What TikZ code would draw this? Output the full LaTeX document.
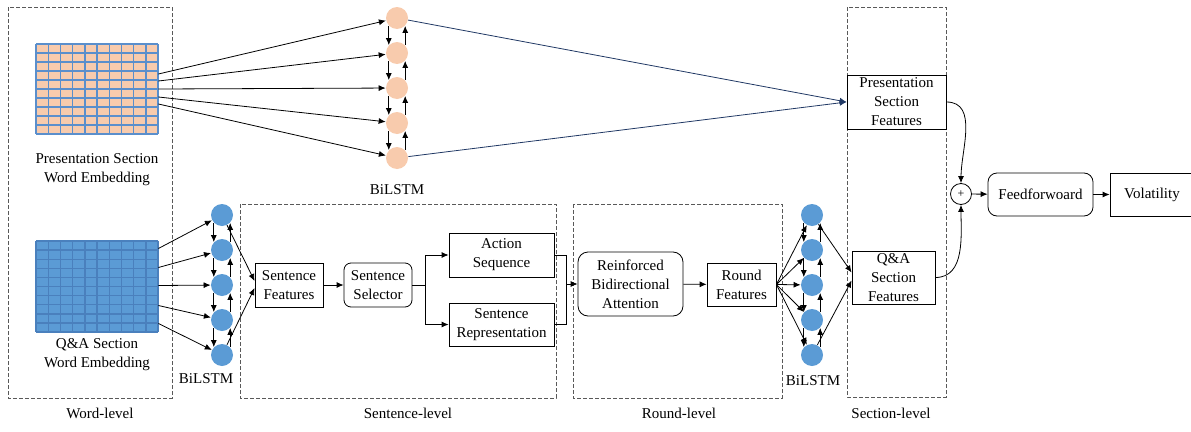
\documentclass[tikz,border=0pt]{standalone}
\usepackage{fontspec}
\setmainfont{Liberation Serif}
\usetikzlibrary{arrows.meta, calc}
\definecolor{cellPeach}{HTML}{F8CBAD}
\definecolor{cellBlue}{HTML}{5B9BD5}
\definecolor{gridBlue}{HTML}{5B8FCC}
\definecolor{gridDark}{HTML}{4A80BD}
\definecolor{lineNavy}{HTML}{203864}
\definecolor{dashGray}{HTML}{595959}

\tikzset{
	arr/.style={-{Latex[length=7pt, width=6pt]}},
	cell/.style={circle, minimum size=22pt, inner sep=0pt},
	block/.style={draw, fill=white, align=center, inner sep=1pt},
	level/.style={draw=dashGray, dash pattern=on 4pt off 2pt},
	txt/.style={align=center, inner sep=1pt}
}

\newcommand{\LstmColumn}[4]{
	\def\lname{#1}
	\def\lx{#2}
	\def\ly{#3}
	\def\lfill{#4}
	\foreach \i in {1,...,5}
		\node[cell, fill=\lfill] (\lname\i) at (\lx, \ly+35*\i-35) {};
	\foreach \i [evaluate=\i as \j using int(\i+1)] in {1,...,4} {
		\draw[arr] (\lname\i.-136) -- (\lname\j.136);
		\draw[arr] (\lname\j.44) -- (\lname\i.-44);
	}
}

\newcommand{\EmbedGrid}[6]{
	\def\gname{#1}
	\def\gx{#2}
	\def\gy{#3}
	\def\gh{#4}
	\def\gfill{#5}
	\def\gline{#6}
	\node[fill=\gfill, minimum width=122pt, minimum height=\gh pt, inner sep=0pt] (\gname) at (\gx+61, \gy+\gh/2) {};
	\foreach \k in {0,...,10} {
		\draw[\gline, line width=1.4pt] (\gx+12.2*\k, \gy) -- (\gx+12.2*\k, \gy+\gh);
		\draw[\gline, line width=1.4pt] (\gx, \gy+\gh*\k/10) -- (\gx+122, \gy+\gh*\k/10);
	}
}

\begin{document}
\begin{tikzpicture}[x=1pt, y=-1pt, line width=0.8pt, font=\fontsize{15}{19}\selectfont]
	\useasboundingbox (0,0) rectangle (1191,431);

	% level frames
	\draw[level] (8,7) rectangle (172,398);
	\draw[level] (240,204) rectangle (556,398);
	\draw[level] (573,204) rectangle (782,398);
	\draw[level] (847,7) rectangle (946,397);
	\node[txt] (wordlvl) at (100,413) {Word-level};
	\node[txt] (sentlvl) at (408,413) {Sentence-level};
	\node[txt] (roundlvl) at (679,413) {Round-level};
	\node[txt] (sectlvl) at (891,413) {Section-level};

	% word embeddings
	\EmbedGrid{pgrid}{36}{44}{90}{cellPeach}{gridBlue}
	\EmbedGrid{qgrid}{36}{241}{91}{cellBlue}{gridDark}
	\node[txt] (ptext) at (97,170) {Presentation Section\\Word Embedding};
	\node[txt] (qtext) at (97,355) {Q\&A Section\\Word Embedding};

	% BiLSTM columns
	\LstmColumn{pc}{397}{18}{cellPeach}
	\LstmColumn{qc}{222}{215}{cellBlue}
	\LstmColumn{rc}{812}{215}{cellBlue}
	\node[txt] (plstm) at (397,190) {BiLSTM};
	\node[txt] (qlstm) at (206,379) {BiLSTM};
	\node[txt] (rlstm) at (813,381) {BiLSTM};

	\foreach \i/\dy in {1/-15, 2/-8, 3/0, 4/8, 5/15}
		\draw[arr] ($(pgrid.east)+(0,\dy)$) -- (pc\i);
	\foreach \i/\dy in {1/-38, 2/-19, 3/-1, 4/19, 5/37}
		\draw[arr] ($(qgrid.east)+(0,\dy)$) -- (qc\i);

	% sentence level
	\node[block, minimum width=68pt, minimum height=44pt] (sf) at (289,285) {Sentence\\Features};
	\node[block, rounded corners=7pt, minimum width=68pt, minimum height=44pt] (ss) at (378,285) {Sentence\\Selector};
	\node[block, minimum width=105pt, minimum height=44pt] (as) at (501.5,255) {Action\\Sequence};
	\node[block, minimum width=105pt, minimum height=43pt] (sr) at (501.5,324.5) {Sentence\\Representation};

	\draw[arr] (qc1) -- ($(sf.west)+(0,-4)$);
	\draw[arr] (qc5) -- ($(sf.west)+(0,3)$);
	\draw[arr] (sf) -- (ss);
	\draw (ss.east) -- ++(13,0) coordinate (split);
	\draw[arr] (split) |- (as.west);
	\draw[arr] (split) |- (sr.west);

	% round level
	\node[block, rounded corners=10pt, minimum width=105pt, minimum height=64pt] (rba) at (630.5,284) {Reinforced\\Bidirectional\\Attention};
	\node[block, minimum width=69pt, minimum height=43pt] (rf) at (741.5,284.5) {Round\\Features};

	\coordinate (merge) at ($(rba.west)+(-11,0)$);
	\draw (as.east) -| (merge);
	\draw (sr.east) -| (merge);
	\draw[arr] (merge) -- (rba.west);
	\draw[arr] (rba) -- (rf);
	\foreach \i in {1,...,5}
		\draw[arr] (rf.east) -- (rc\i);

	% section level
	\node[block, inner sep=0pt, minimum width=99pt, minimum height=54pt] (psf) at (896.5,102) {Presentation\\Section\\Features};
	\node[block, inner sep=0pt, minimum width=83pt, minimum height=53pt] (qsf) at (893.5,277.5) {Q\&A\\Section\\Features};

	\draw[lineNavy, arr] (pc1) -- (psf.west);
	\draw[lineNavy, arr] (pc5) -- (psf.west);
	\draw[arr] (rc1) -- ($(qsf.west)+(0,-5)$);
	\draw[arr] (rc5) -- ($(qsf.west)+(0,3)$);

	% output
	\node[circle, draw, minimum size=21pt, inner sep=0pt, font=\fontsize{12}{12}\selectfont] (plus) at (961,194) {+};
	\node[block, rounded corners=9pt, minimum width=105pt, minimum height=43pt] (ff) at (1040.5,194.5) {Feedforwoard};
	\node[block, minimum width=84pt, minimum height=43pt] (vol) at (1152,194.5) {Volatility};

	\draw[arr] (psf.east) to[out=0, in=90] (plus.north);
	\draw[arr] (qsf.east) to[out=0, in=-90] (plus.south);
	\draw[arr] (plus) -- (ff);
	\draw[arr] (ff) -- (vol);

\end{tikzpicture}
\end{document}
